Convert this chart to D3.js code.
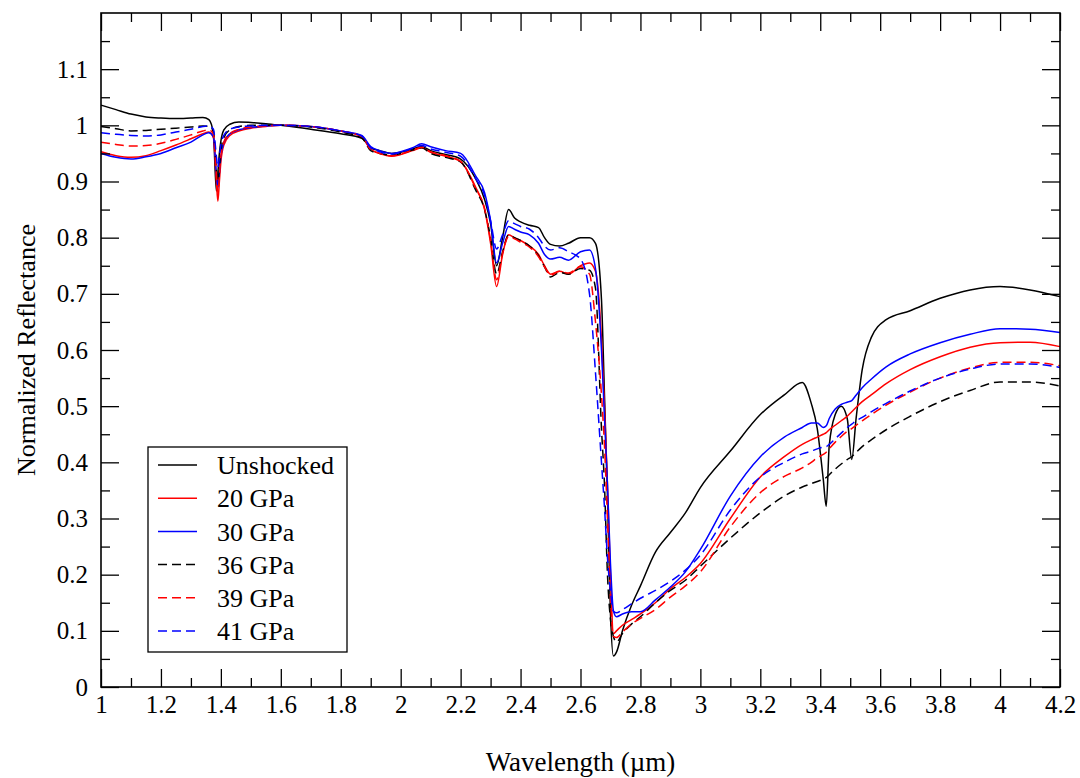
<!DOCTYPE html>
<html>
<head>
<meta charset="utf-8">
<script src="https://cdn.jsdelivr.net/npm/d3@7"></script>
<style>
  body { margin: 0; background: #fff; }
  svg text { font-family: "Liberation Serif", "DejaVu Serif", serif; fill: #000; }
</style>
</head>
<body>
<div id="chart"></div>
<script>
// wavelength grid (µm), shared by all spectra
const wavelength = [
  1.00, 1.05, 1.10, 1.15, 1.20, 1.25, 1.30,
  1.34, 1.36, 1.375, 1.385, 1.39, 1.395, 1.40, 1.41, 1.43,
  1.46, 1.50, 1.55, 1.60, 1.70, 1.80, 1.87, 1.90, 1.93, 1.97, 2.00, 2.04, 2.07, 2.10, 2.15, 2.20,
  2.25, 2.28, 2.30, 2.32, 2.34, 2.36, 2.38, 2.40, 2.43, 2.46, 2.48, 2.50, 2.53, 2.56, 2.60, 2.63, 2.65,
  2.67, 2.68, 2.69, 2.70, 2.71, 2.72, 2.74, 2.77, 2.80, 2.85, 2.90, 2.95, 3.00,
  3.10, 3.20, 3.28, 3.34, 3.37, 3.39, 3.41, 3.42, 3.43, 3.45, 3.47, 3.49, 3.505, 3.52, 3.54, 3.57, 3.62, 3.70, 3.80, 3.90, 4.00, 4.10, 4.20
];

const unshocked = [
  1.036, 1.028, 1.020, 1.015, 1.013, 1.012, 1.013,
  1.014, 1.010, 0.985, 0.883, 0.915, 0.950, 0.972, 0.992, 1.002,
  1.006, 1.005, 1.003, 1.000, 0.993, 0.985, 0.977, 0.960, 0.955, 0.950, 0.952, 0.958, 0.962, 0.955, 0.948, 0.940,
  0.905, 0.868, 0.825, 0.750, 0.800, 0.850, 0.835, 0.828, 0.822, 0.818, 0.800, 0.788, 0.785, 0.790, 0.800, 0.800, 0.790,
  0.690, 0.520, 0.340, 0.130, 0.055, 0.062, 0.100, 0.145, 0.180, 0.240, 0.275, 0.310, 0.355,
  0.420, 0.485, 0.520, 0.542, 0.505, 0.460, 0.370, 0.322, 0.430, 0.485, 0.500, 0.478, 0.405, 0.480, 0.565, 0.622, 0.654, 0.670, 0.692, 0.707, 0.713, 0.707, 0.695
];

const gpa20 = [
  0.953, 0.946, 0.943, 0.946, 0.955, 0.965, 0.976,
  0.985, 0.988, 0.978, 0.900, 0.865, 0.900, 0.935, 0.965, 0.982,
  0.990, 0.995, 0.998, 1.000, 0.998, 0.990, 0.980, 0.958, 0.950, 0.945, 0.948, 0.955, 0.960, 0.952, 0.945, 0.935,
  0.890, 0.850, 0.790, 0.713, 0.770, 0.805, 0.800, 0.795, 0.785, 0.770, 0.750, 0.735, 0.740, 0.735, 0.750, 0.755, 0.740,
  0.620, 0.500, 0.360, 0.200, 0.095, 0.100, 0.110, 0.120, 0.130, 0.150, 0.175, 0.195, 0.220,
  0.300, 0.374, 0.410, 0.432, 0.440, 0.445, 0.450, 0.453, 0.458, 0.466, 0.474, 0.482, 0.490, 0.498, 0.508, 0.520, 0.540, 0.565, 0.588, 0.605, 0.613, 0.614, 0.606
];

const gpa30 = [
  0.950, 0.943, 0.940, 0.944, 0.950, 0.960, 0.970,
  0.983, 0.987, 0.980, 0.915, 0.890, 0.915, 0.945, 0.970, 0.985,
  0.992, 0.996, 0.999, 1.000, 0.998, 0.990, 0.982, 0.962, 0.955, 0.950, 0.953, 0.960, 0.967, 0.962, 0.955, 0.950,
  0.910, 0.880, 0.830, 0.755, 0.790, 0.820, 0.815, 0.810, 0.805, 0.790, 0.770, 0.762, 0.765, 0.760, 0.775, 0.778, 0.745,
  0.600, 0.480, 0.360, 0.220, 0.135, 0.125, 0.130, 0.134, 0.134, 0.155, 0.178, 0.205, 0.245,
  0.340, 0.410, 0.445, 0.462, 0.470, 0.470, 0.462, 0.465, 0.478, 0.495, 0.503, 0.507, 0.510, 0.520, 0.533, 0.548, 0.570, 0.593, 0.613, 0.628, 0.638, 0.637, 0.631
];

const gpa36 = [
  0.998, 0.994, 0.990, 0.991, 0.993, 0.995, 0.997,
  0.999, 0.998, 0.990, 0.920, 0.900, 0.925, 0.955, 0.978, 0.992,
  0.998, 1.000, 1.000, 1.000, 0.997, 0.988, 0.978, 0.955, 0.950, 0.947, 0.950, 0.956, 0.960, 0.950, 0.943, 0.935,
  0.885, 0.850, 0.800, 0.735, 0.775, 0.805, 0.800, 0.795, 0.785, 0.768, 0.748, 0.730, 0.738, 0.735, 0.745, 0.742, 0.710,
  0.460, 0.360, 0.200, 0.120, 0.090, 0.080, 0.095, 0.112, 0.125, 0.150, 0.172, 0.190, 0.215,
  0.265, 0.310, 0.340, 0.356, 0.362, 0.366, 0.370, 0.373, 0.378, 0.388, 0.397, 0.405, 0.410, 0.418, 0.428, 0.440, 0.458, 0.482, 0.508, 0.528, 0.543, 0.543, 0.536
];

const gpa39 = [
  0.970, 0.966, 0.963, 0.964, 0.968, 0.975, 0.983,
  0.990, 0.992, 0.985, 0.915, 0.880, 0.910, 0.945, 0.970, 0.985,
  0.993, 0.997, 0.999, 1.000, 0.998, 0.990, 0.980, 0.957, 0.950, 0.946, 0.949, 0.956, 0.961, 0.953, 0.946, 0.936,
  0.888, 0.852, 0.795, 0.725, 0.772, 0.802, 0.798, 0.792, 0.783, 0.766, 0.748, 0.733, 0.740, 0.737, 0.748, 0.735, 0.650,
  0.520, 0.430, 0.300, 0.160, 0.090, 0.088, 0.098, 0.112, 0.122, 0.138, 0.160, 0.180, 0.205,
  0.285, 0.346, 0.375, 0.390, 0.400, 0.408, 0.414, 0.418, 0.424, 0.436, 0.446, 0.455, 0.460, 0.466, 0.474, 0.485, 0.502, 0.525, 0.550, 0.568, 0.578, 0.578, 0.572
];

const gpa41 = [
  0.987, 0.984, 0.982, 0.981, 0.983, 0.988, 0.993,
  0.998, 0.999, 0.993, 0.945, 0.925, 0.945, 0.965, 0.982, 0.993,
  0.997, 0.999, 1.000, 1.000, 0.998, 0.990, 0.981, 0.960, 0.953, 0.949, 0.952, 0.959, 0.964, 0.958, 0.952, 0.945,
  0.905, 0.875, 0.830, 0.780, 0.805, 0.830, 0.825, 0.820, 0.815, 0.800, 0.785, 0.778, 0.782, 0.775, 0.762, 0.700, 0.560,
  0.400, 0.320, 0.230, 0.170, 0.135, 0.132, 0.138, 0.148, 0.158, 0.172, 0.188, 0.208, 0.235,
  0.315, 0.374, 0.400, 0.415, 0.420, 0.424, 0.427, 0.428, 0.432, 0.442, 0.452, 0.462, 0.468, 0.474, 0.480, 0.490, 0.505, 0.527, 0.550, 0.566, 0.575, 0.575, 0.569
];

const seriesNames = ["Unshocked", "20 GPa", "30 GPa", "36 GPa", "39 GPa", "41 GPa"];
const seriesValues = [unshocked, gpa20, gpa30, gpa36, gpa39, gpa41];
const seriesColors = ["#000000", "#ff0000", "#0000ff", "#000000", "#ff0000", "#0000ff"];
const seriesDashed = [false, false, false, true, true, true];

const xMajorTicks = d3.range(1, 4.2001, 0.2);
const xMinorTicks = d3.range(1.1, 4.2, 0.2);
const yMajorTicks = d3.range(0, 1.1001, 0.1);
const yMinorTicks = d3.range(0.05, 1.2, 0.1);

const width = 1080, height = 778;
const plot = { left: 101, right: 1060, top: 13, bottom: 687 };
const dash = "9,5";

const svg = d3.select("#chart").append("svg")
  .attr("width", width)
  .attr("height", height);

const x = d3.scaleLinear().domain([1, 4.2]).range([plot.left, plot.right]);
const y = d3.scaleLinear().domain([0, 1.2]).range([plot.bottom, plot.top]);

// spectra
const line = d3.line()
  .x(d => x(d[0]))
  .y(d => y(d[1]))
  .curve(d3.curveMonotoneX);

svg.append("g")
  .selectAll("path")
  .data(seriesValues.map((vals, i) => ({ i, pts: wavelength.map((w, k) => [w, vals[k]]) })))
  .join("path")
  .attr("fill", "none")
  .attr("stroke", d => seriesColors[d.i])
  .attr("stroke-width", 1.5)
  .attr("stroke-dasharray", d => seriesDashed[d.i] ? dash : null)
  .attr("d", d => line(d.pts));

// axes with inward ticks on all four sides
function styleAxis(g) {
  g.select(".domain").remove();
  g.selectAll(".tick line").attr("stroke", "#000").attr("stroke-width", 1.3);
  g.selectAll(".tick text").attr("font-size", 25).attr("font-family", "Liberation Serif");
}

const fmt = d => d3.format("~g")(+d.toFixed(2));

svg.append("g")
  .attr("transform", `translate(0,${plot.bottom})`)
  .call(d3.axisBottom(x).tickValues(xMajorTicks).tickSizeInner(-18).tickSizeOuter(0).tickPadding(8).tickFormat(fmt))
  .call(styleAxis);
svg.append("g")
  .attr("transform", `translate(0,${plot.bottom})`)
  .call(d3.axisBottom(x).tickValues(xMinorTicks).tickSizeInner(-9).tickSizeOuter(0).tickFormat(""))
  .call(styleAxis);
svg.append("g")
  .attr("transform", `translate(0,${plot.top})`)
  .call(d3.axisTop(x).tickValues(xMajorTicks).tickSizeInner(-18).tickSizeOuter(0).tickFormat(""))
  .call(styleAxis);
svg.append("g")
  .attr("transform", `translate(0,${plot.top})`)
  .call(d3.axisTop(x).tickValues(xMinorTicks).tickSizeInner(-9).tickSizeOuter(0).tickFormat(""))
  .call(styleAxis);

svg.append("g")
  .attr("transform", `translate(${plot.left},0)`)
  .call(d3.axisLeft(y).tickValues(yMajorTicks).tickSizeInner(-18).tickSizeOuter(0).tickPadding(13).tickFormat(fmt))
  .call(styleAxis);
svg.append("g")
  .attr("transform", `translate(${plot.left},0)`)
  .call(d3.axisLeft(y).tickValues(yMinorTicks).tickSizeInner(-9).tickSizeOuter(0).tickFormat(""))
  .call(styleAxis);
svg.append("g")
  .attr("transform", `translate(${plot.right},0)`)
  .call(d3.axisRight(y).tickValues(yMajorTicks).tickSizeInner(-18).tickSizeOuter(0).tickFormat(""))
  .call(styleAxis);
svg.append("g")
  .attr("transform", `translate(${plot.right},0)`)
  .call(d3.axisRight(y).tickValues(yMinorTicks).tickSizeInner(-9).tickSizeOuter(0).tickFormat(""))
  .call(styleAxis);

// frame
svg.append("rect")
  .attr("x", plot.left)
  .attr("y", plot.top)
  .attr("width", plot.right - plot.left)
  .attr("height", plot.bottom - plot.top)
  .attr("fill", "none")
  .attr("stroke", "#000")
  .attr("stroke-width", 1.6);

// axis titles
svg.append("text")
  .attr("x", (plot.left + plot.right) / 2)
  .attr("y", 771)
  .attr("text-anchor", "middle")
  .attr("font-size", 27)
  .text("Wavelength (µm)");

svg.append("text")
  .attr("transform", `translate(35,${(plot.top + plot.bottom) / 2}) rotate(-90)`)
  .attr("text-anchor", "middle")
  .attr("font-size", 26)
  .text("Normalized Reflectance");

// legend
const legend = svg.append("g").attr("transform", "translate(148,447)");
legend.append("rect")
  .attr("width", 199)
  .attr("height", 205)
  .attr("fill", "#fff")
  .attr("stroke", "#000")
  .attr("stroke-width", 1.3);

const rows = legend.selectAll("g.row")
  .data(seriesNames)
  .join("g")
  .attr("class", "row")
  .attr("transform", (d, i) => `translate(0,${18 + i * 33.2})`);

rows.append("line")
  .attr("x1", 10).attr("x2", 49)
  .attr("stroke", (d, i) => seriesColors[i])
  .attr("stroke-width", 1.5)
  .attr("stroke-dasharray", (d, i) => seriesDashed[i] ? dash : null);

rows.append("text")
  .attr("x", 69)
  .attr("dy", "0.35em")
  .attr("font-size", 26)
  .text(d => d);
</script>
</body>
</html>
